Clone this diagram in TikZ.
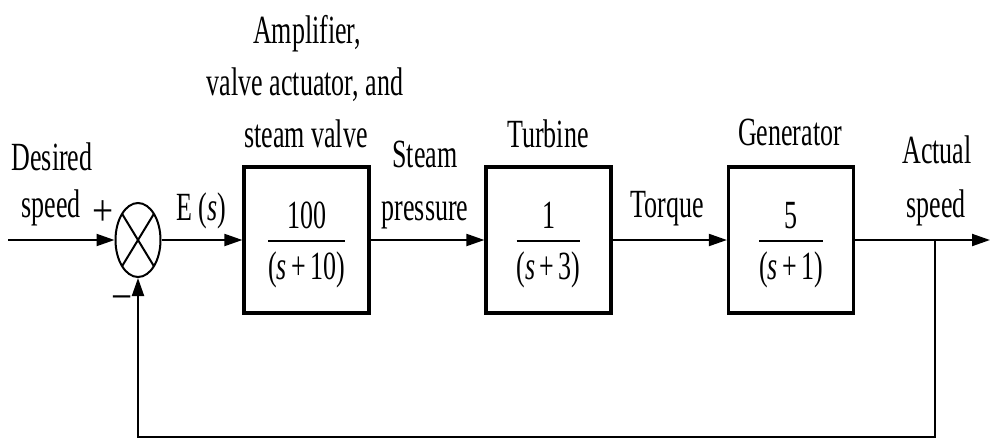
\documentclass[tikz,border=0pt]{standalone}
\usepackage{fontspec}
\setmainfont{Liberation Serif}
\usepackage{graphicx}
\usetikzlibrary{arrows.meta,shapes.geometric}
\newcommand\sx[1]{\scalebox{0.65}[1]{#1}}
\newcommand\frc[2]{\sx{\renewcommand\arraystretch{0.1}\setlength\arrayrulewidth{1pt}\begin{tabular}{@{}c@{}}\rule{0pt}{18.5pt}#1\rule[-5.5pt]{0pt}{0pt}\\\hline\rule{0pt}{19pt}#2\end{tabular}}}
\begin{document}
\begin{tikzpicture}[x=0.5pt,y=-0.5pt,
  every node/.style={font=\fontsize{20}{24}\selectfont},
  lbl/.style={inner sep=0pt, anchor=base},
  blk/.style={draw, line width=1.6pt, minimum width=62.5pt, minimum height=73pt, inner sep=0pt},
  sumj/.style={draw, line width=1pt, ellipse, minimum width=22.5pt, minimum height=37pt, inner sep=0pt,
    path picture={\draw[line width=1pt] (path picture bounding box.north west) -- (path picture bounding box.south east)
      (path picture bounding box.south west) -- (path picture bounding box.north east);}},
  sig/.style={line width=1pt, -{Triangle[length=9pt,width=6pt]}}]
\useasboundingbox (0,0) rectangle (991,445);

\node[sumj] (sum) at (138,240) {};
\node[blk] (b1) at (306.5,240) {\frc{100}{(\textit{s}\,+\,10)}};
\node[blk] (b2) at (548.5,240) {\frc{1}{(\textit{s}\,+\,3)}};
\node[blk] (b3) at (791,240) {\frc{5}{(\textit{s}\,+\,1)}};

\node[lbl] (t1) at (52,170) {\sx{Desired}};
\node[lbl] (t2) at (51,217) {\sx{speed}};
\node[lbl] (plus) at (103,225) {\scalebox{0.85}[1]{\fontsize{22}{24}\selectfont +}};
\node[lbl] (es) at (201,220) {\sx{E (\textit{s})}};
\node[lbl] (minus) at (122,311) {\scalebox{0.85}[1]{\fontsize{22}{24}\selectfont −}};
\node[lbl] (a1) at (307,43) {\sx{Amplifier,}};
\node[lbl] (a2) at (305,95) {\sx{valve actuator, and}};
\node[lbl] (a3) at (306,147) {\sx{steam valve}};
\node[lbl] (sp1) at (425,167) {\sx{Steam}};
\node[lbl] (sp2) at (425,220) {\sx{pressure}};
\node[lbl] (tu) at (548,147) {\sx{Turbine}};
\node[lbl] (tq) at (667,217) {\sx{Torque}};
\node[lbl] (ge) at (790,145) {\sx{Generator}};
\node[lbl] (ac1) at (937,163) {\sx{Actual}};
\node[lbl] (ac2) at (936,217) {\sx{speed}};

\coordinate (in) at (8,240);
\coordinate (out) at (990,240);
\coordinate (br) at (935,240);
\coordinate (bot) at (935,437);

\draw[sig] (in) -- (sum);
\draw[sig] (sum) -- (b1);
\draw[sig] (b1) -- (b2);
\draw[sig] (b2) -- (b3);
\draw[sig] (b3) -- (out);
\draw[sig] (br) -- (bot) -| (sum);
\end{tikzpicture}
\end{document}
